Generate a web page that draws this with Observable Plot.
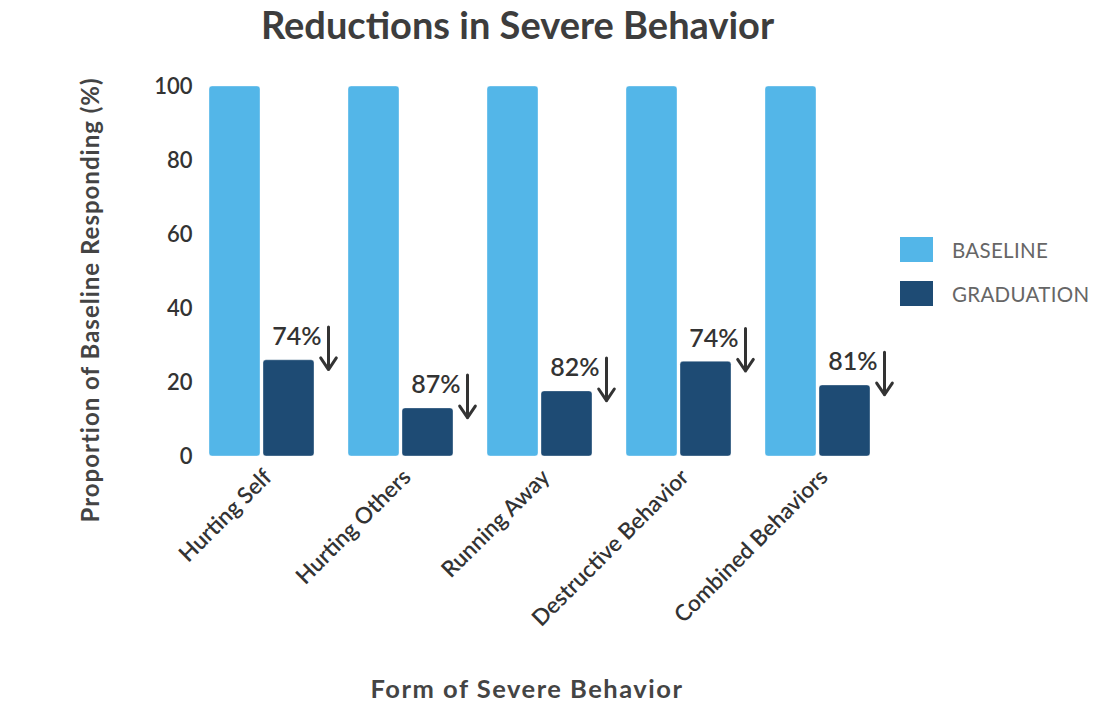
<!DOCTYPE html>
<html>
<head>
<meta charset="utf-8">
<script src="https://cdn.jsdelivr.net/npm/d3@7"></script>
<script src="https://cdn.jsdelivr.net/npm/@observablehq/plot@0.6"></script>
<style>
  html, body { margin: 0; padding: 0; background: #fff; }
  #wrap { position: relative; width: 1098px; height: 704px; font-family: Lato, "Noto Sans", sans-serif; overflow: hidden; }
  #title { position: absolute; left: 0; width: 1035px; top: -1px; text-align: center; font-size: 38px; font-weight: 700; color: #3d3d3d; line-height: 50px; }
  #ylab { position: absolute; left: 89px; top: 300px; transform: translate(-50%, -50%) rotate(-90deg); white-space: nowrap; font-size: 24px; font-weight: 700; color: #444; letter-spacing: 1px; }
  #xlab { position: absolute; left: 527px; top: 688px; transform: translate(-50%, -50%); white-space: nowrap; font-size: 25.5px; font-weight: 700; color: #444; letter-spacing: 1.5px; }
  #chart { position: absolute; left: 0; top: 0; }
  #legend { position: absolute; left: 900px; top: 237px; }
  .item { display: flex; align-items: center; height: 25px; margin-bottom: 19px; }
  .sw { width: 33px; height: 25px; margin-right: 19px; }
  .lt { font-size: 20.5px; color: #666; letter-spacing: 0.3px; }
</style>
</head>
<body>
<div id="wrap">
  <div id="title">Reductions in Severe Behavior</div>
  <div id="chart"></div>
  <div id="ylab">Proportion of Baseline Responding (%)</div>
  <div id="xlab">Form of Severe Behavior</div>
  <div id="legend"></div>
</div>
<script>
// ---- data ----
const behaviors = ["Hurting Self", "Hurting Others", "Running Away", "Destructive Behavior", "Combined Behaviors"];
const seriesNames = ["Baseline", "Graduation"];
const legendLabels = ["BASELINE", "GRADUATION"];
const seriesColors = ["#53b6e8", "#1e4b74"];
const baseline = [100, 100, 100, 100, 100];
const graduation = [26, 13, 17.6, 25.6, 19.2];
const reductionLabels = ["74%", "87%", "82%", "74%", "81%"];
const yTicks = [0, 20, 40, 60, 80, 100];

const rows = [];
behaviors.forEach((b, i) => {
  rows.push({behavior: b, series: seriesNames[0], value: baseline[i]});
  rows.push({behavior: b, series: seriesNames[1], value: graduation[i]});
});
const gradRows = behaviors.map((b, i) => ({behavior: b, series: seriesNames[1], value: graduation[i], label: reductionLabels[i]}));

const chart = Plot.plot({
  width: 1098,
  height: 704,
  marginTop: 86,
  marginBottom: 248,
  marginLeft: 195,
  marginRight: 214,
  style: {fontFamily: "Lato, 'Noto Sans', sans-serif", background: "transparent"},
  fx: {domain: behaviors, paddingInner: 0.245, paddingOuter: 0.1, label: null, axis: null},
  x: {domain: seriesNames, paddingInner: 0.06, paddingOuter: 0, axis: null},
  y: {domain: [0, 100], label: null, axis: null},
  color: {domain: seriesNames, range: seriesColors},
  marks: [
    Plot.axisY({ticks: yTicks, tickSize: 0, tickPadding: 17, fontSize: 22, fontWeight: 600, fill: "#333", label: null}),
    Plot.axisFx({anchor: "bottom", tickRotate: -45, tickSize: 0, tickPadding: 17, dx: 6, fontSize: 22.5, fontWeight: 600, fill: "#333", label: null}),
    Plot.barY(rows, {fx: "behavior", x: "series", y: "value", fill: "series", rx: 3, stroke: "#ffffff", strokeOpacity: 0.35, strokeWidth: 1}),
    Plot.text(gradRows, {fx: "behavior", x: "series", y: "value", text: "label", dy: -23, dx: 8, fontSize: 25, fontWeight: 600, fill: "#333"}),
    Plot.arrow(gradRows, {fx: "behavior", x1: "series", x2: "series", y1: d => d.value + 9, y2: d => d.value - 2.5, dx: 39.5, stroke: "#333", strokeWidth: 3, headLength: 7, headAngle: 68})
  ]
});
document.getElementById("chart").appendChild(chart);

const legend = document.getElementById("legend");
seriesNames.forEach((s, i) => {
  const item = document.createElement("div");
  item.className = "item";
  const sw = document.createElement("div");
  sw.className = "sw";
  sw.style.background = seriesColors[i];
  const lt = document.createElement("div");
  lt.className = "lt";
  lt.textContent = legendLabels[i];
  item.appendChild(sw);
  item.appendChild(lt);
  legend.appendChild(item);
});
</script>
</body>
</html>
